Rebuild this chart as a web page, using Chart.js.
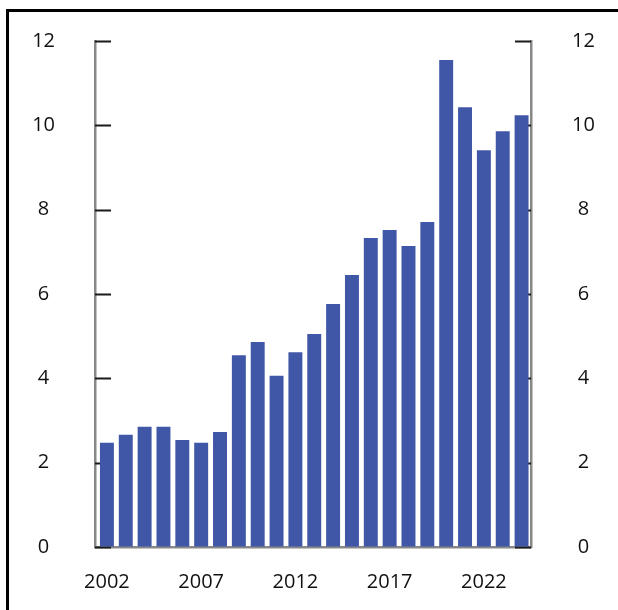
<!DOCTYPE html>
<html lang="no">
<head>
    <meta charset="UTF-8">
    <title>Stolpediagram</title>
    <script src="https://cdn.jsdelivr.net/npm/chart.js"></script>
    <style>
        body { margin: 0; background: #fff; }
        #ramme { position: absolute; left: 6px; top: 9px; width: 700px; height: 700px;
                 border-left: 3px solid #000; border-top: 3px solid #000; }
        #wrap { position: absolute; left: 0; top: 0; }
    </style>
</head>
<body>
<div id="ramme"></div>
<div id="wrap"><canvas id="grafico" width="618" height="610"></canvas></div>
<script>
    // data lest av fra figuren
    const aar = ["2002","2003","2004","2005","2006","2007","2008","2009","2010","2011","2012","2013",
                 "2014","2015","2016","2017","2018","2019","2020","2021","2022","2023","2024"];
    const verdier = [2.47, 2.66, 2.85, 2.85, 2.54, 2.47, 2.73, 4.55, 4.86, 4.06, 4.62, 5.05,
                     5.76, 6.45, 7.33, 7.52, 7.14, 7.71, 11.55, 10.43, 9.41, 9.86, 10.24];
    const yMin = 0, yMax = 12, ySteg = 2;

    const font = { family: "'Open Sans', 'Noto Sans', sans-serif", size: 20 };

    // små innovervendte tickstreker, tegnes under stolpene
    const innTicks = {
        id: "innTicks",
        afterLayout(chart) {
            // litt luft mellom venstre akse og første stolpe
            const x = chart.scales.x;
            x._startPixel += 2.5;
            x._length -= 2.5;
        },
        beforeDatasetsDraw(chart) {
            const c = chart.ctx;
            const a = chart.chartArea;
            const y = chart.scales.y;
            c.save();
            c.strokeStyle = "#1a1a1a";
            c.lineWidth = 2;
            y.ticks.forEach((t, i) => {
                const py = Math.round(y.getPixelForTick(i)) + 0.5;
                c.beginPath();
                c.moveTo(a.left, py); c.lineTo(a.left + 16, py);
                c.moveTo(a.right - 16, py); c.lineTo(a.right, py);
                c.stroke();
            });
            c.restore();
        }
    };

    const aksel = { display: true, color: "#888", width: 2.5 };
    const ingenGrid = { display: true, drawOnChartArea: false, drawTicks: false };
    // usynlige ticks gir avstand mellom akse og tall uten ekstra luft i toppen
    const yGrid = { display: true, drawOnChartArea: false, drawTicks: true, tickLength: 40, tickColor: "rgba(0,0,0,0)" };

    new Chart(document.getElementById("grafico"), {
        type: "bar",
        data: {
            labels: aar,
            datasets: [{
                data: verdier,
                backgroundColor: "#4057a8",
                barPercentage: 0.74,
                categoryPercentage: 1
            }]
        },
        options: {
            responsive: false,
            animation: false,
            layout: { padding: { top: 41, left: 0, right: 0, bottom: 0 } },
            plugins: { legend: { display: false }, tooltip: { enabled: false } },
            scales: {
                x: {
                    grid: ingenGrid,
                    border: aksel,
                    afterFit(s) { s.height = 63; },
                    ticks: {
                        autoSkip: false, maxRotation: 0, padding: 23,
                        color: "#111", font: font,
                        callback(v, i) { return i % 5 === 0 ? aar[i] : ""; }
                    }
                },
                y: {
                    position: "left",
                    min: yMin, max: yMax,
                    grid: yGrid,
                    border: aksel,
                    afterFit(s) { s.width = 95; },
                    ticks: { stepSize: ySteg, crossAlign: "center", padding: 0, color: "#111", font: font }
                },
                y2: {
                    position: "right",
                    min: yMin, max: yMax,
                    grid: { ...yGrid, tickLength: 41 },
                    border: aksel,
                    afterFit(s) { s.width = 87; },
                    ticks: { stepSize: ySteg, crossAlign: "center", padding: 0, color: "#111", font: font }
                }
            }
        },
        plugins: [innTicks]
    });
</script>
</body>
</html>
